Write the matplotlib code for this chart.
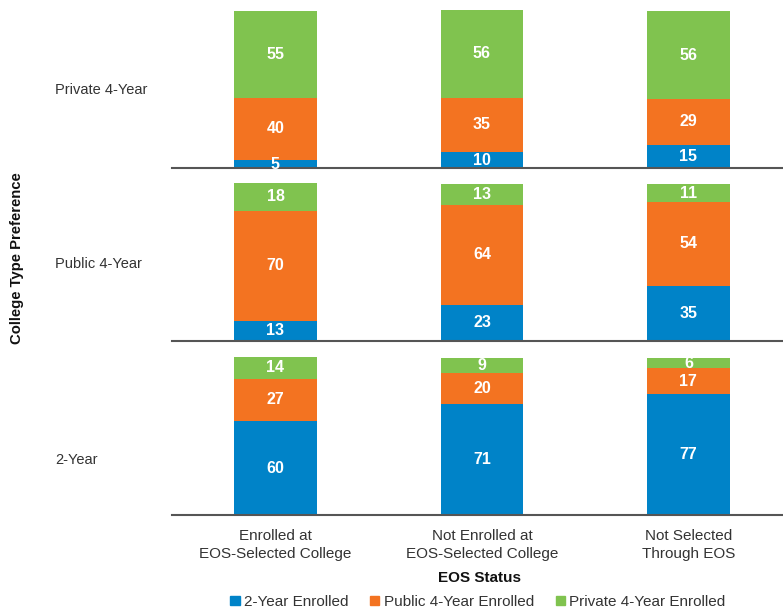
import numpy as np
import matplotlib
matplotlib.use('Agg')
import matplotlib.pyplot as plt
from matplotlib.patches import Patch

plt.rcParams['font.family'] = ['Liberation Sans', 'DejaVu Sans']

# Data: percent of students by enrollment outcome
statuses = ['Enrolled at\nEOS-Selected College',
            'Not Enrolled at\nEOS-Selected College',
            'Not Selected\nThrough EOS']
preferences = ['Private 4-Year', 'Public 4-Year', '2-Year']
series = ['2-Year Enrolled', 'Public 4-Year Enrolled', 'Private 4-Year Enrolled']
colors = ['#0083C8', '#F37321', '#80C34F']

two_year = {'Private 4-Year': [5, 10, 15],
            'Public 4-Year': [13, 23, 35],
            '2-Year': [60, 71, 77]}
public_4yr = {'Private 4-Year': [40, 35, 29],
              'Public 4-Year': [70, 64, 54],
              '2-Year': [27, 20, 17]}
private_4yr = {'Private 4-Year': [55, 56, 56],
               'Public 4-Year': [18, 13, 11],
               '2-Year': [14, 9, 6]}

fig = plt.figure(figsize=(7.83, 6.12), dpi=100)

left = 172 / 783
width = 1 - left
panel_h = 173 / 612
bottoms = [(612 - 168) / 612, (612 - 341) / 612, (612 - 515) / 612]
label_y = [90, 264, 460]  # row label pixel rows

x = np.arange(len(statuses))
for i, pref in enumerate(preferences):
    ax = fig.add_axes([left, bottoms[i], width, panel_h])
    base = np.zeros(len(statuses))
    for vals, col in zip([two_year[pref], public_4yr[pref], private_4yr[pref]], colors):
        vals = np.array(vals, dtype=float)
        ax.bar(x, vals, bottom=base, width=0.40, color=col)
        for xi, b, v in zip(x, base, vals):
            ax.text(xi, b + v / 2, f'{int(v)}', ha='center', va='center',
                    color='white', fontsize=11.5, fontweight='bold')
        base += vals
    ax.set_xlim(-0.501, 2.458)
    ax.set_ylim(0, 110.5)
    ax.set_yticks([])
    for s in ['top', 'left', 'right']:
        ax.spines[s].set_visible(False)
    ax.spines['bottom'].set_color('#555555')
    ax.spines['bottom'].set_linewidth(1.5)
    ax.set_xticks(x)
    if i == len(preferences) - 1:
        ax.set_xticklabels(statuses, fontsize=11, color='#333333', linespacing=1.35)
        ax.tick_params(axis='x', length=0, pad=10)
    else:
        ax.set_xticklabels([])
        ax.tick_params(axis='x', length=0)
    ax.patch.set_alpha(0)
    # row label
    fig.text(55 / 783, 1 - label_y[i] / 612, pref, ha='left', va='center',
             fontsize=10.5, color='#333333')

fig.text(17 / 783, 1 - 258 / 612, 'College Type Preference', rotation=90,
         ha='center', va='center', fontsize=10.7, fontweight='bold', color='#111111')
fig.text(480 / 783, 1 - 578 / 612, 'EOS Status', ha='center', va='center',
         fontsize=11, fontweight='bold', color='#111111')

handles = [Patch(color=c, label=s) for c, s in zip(colors, series)]
fig.legend(handles=handles, loc='center', bbox_to_anchor=(478 / 783, 1 - 602 / 612),
           ncol=3, frameon=False, fontsize=11, handlelength=0.6, handleheight=0.6,
           handletextpad=0.3, columnspacing=1.4, labelcolor='#333333')

fig.savefig('out.png', dpi=100)
